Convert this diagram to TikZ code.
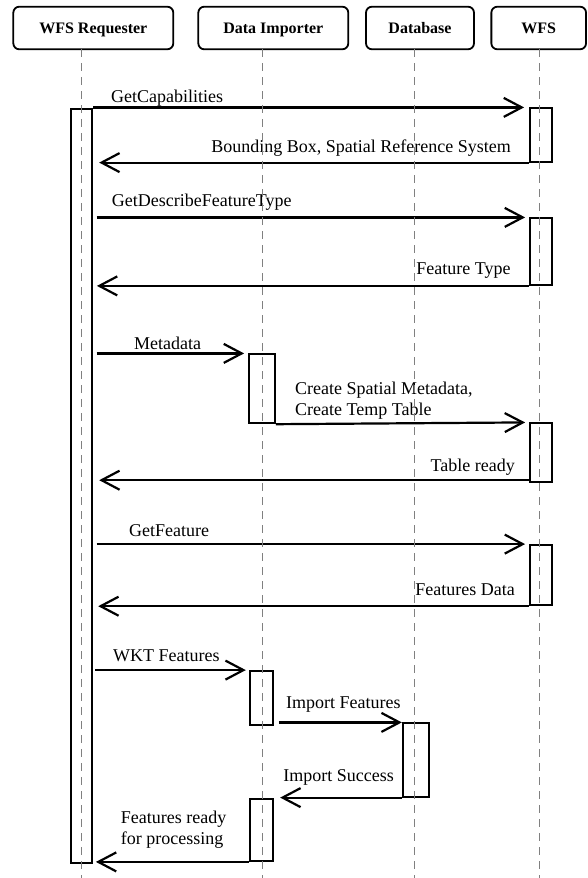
\documentclass[tikz,border=0pt]{standalone}
\usepackage{fontspec}
\setmainfont{Liberation Serif}
\usetikzlibrary{arrows.meta}
\begin{document}
\begin{tikzpicture}[x=1pt,y=-1pt,
  head/.style={draw, line width=1.8pt, rounded corners=6pt, minimum height=42.6pt, inner sep=0pt,
    font=\fontsize{16}{19}\selectfont\bfseries, text height=10.8pt, text depth=0pt},
  life/.style={draw=gray, line width=1.5pt, dash pattern=on 7.3pt off 6.7pt},
  act/.style={draw, line width=1.8pt, inner sep=0pt},
  msg/.style={line width=2.2pt, -{Straight Barb[length=18pt,width=19pt,line width=2.2pt]}},
  lbl/.style={font=\fontsize{18}{21}\selectfont, inner sep=0pt},
]
\useasboundingbox (0,0) rectangle (588,878);

% headers
\node[head, minimum width=160pt] (hreq) at (93.3,28) {WFS Requester};
\node[head, minimum width=150pt] (hdi) at (273.3,28) {Data Importer};
\node[head, minimum width=108pt] (hdb) at (420,28) {Database};
\node[head, minimum width=94.7pt] (hwfs) at (538.7,28) {WFS};

% lifeline ends
\coordinate (lreqA) at (81.7,49.3);  \coordinate (lreqB) at (81.7,878);
\coordinate (ldiA) at (262.3,49.3);  \coordinate (ldiB) at (262.3,878);
\coordinate (ldbA) at (414.3,49.3);  \coordinate (ldbB) at (414.3,878);
\coordinate (lwfsA) at (539.3,49.3); \coordinate (lwfsB) at (539.3,878);

% activation boxes
\node[act, minimum width=21.3pt, minimum height=753.7pt] (rbar) at (81.65,485.85) {};
\node[act, minimum width=21.7pt, minimum height=53.4pt] (w1) at (540.85,135) {};
\node[act, minimum width=21.7pt, minimum height=66.7pt] (w2) at (540.85,251.65) {};
\node[act, minimum width=25.7pt, minimum height=69pt] (d1) at (262.15,388.8) {};
\node[act, minimum width=21.7pt, minimum height=59pt] (w3) at (540.85,452.8) {};
\node[act, minimum width=21.7pt, minimum height=60.3pt] (w4) at (540.85,575.15) {};
\node[act, minimum width=22.7pt, minimum height=54.3pt] (d2) at (261.35,698.15) {};
\node[act, minimum width=26.6pt, minimum height=73.4pt] (b1) at (416,760) {};
\node[act, minimum width=22.7pt, minimum height=62pt] (d3) at (261.35,830) {};

% messages
\draw[msg, shorten >=5pt] (rbar.east |- w1.north) -- (w1.north west);
\draw[msg, shorten >=6pt] (w1.south west) -- (rbar.east |- w1.south);
\draw[msg, shorten <=3.4pt, shorten >=4pt] (rbar.east |- w2.north) -- (w2.north west);
\draw[msg, shorten >=3.7pt] (w2.south west) -- (rbar.east |- w2.south);
\draw[msg, shorten <=3.4pt, shorten >=4.3pt] (rbar.east |- d1.north) -- (d1.north west);
\draw[msg, shorten >=4pt] (d1.south east) -- (w3.north west);
\draw[msg, shorten >=6pt] ([yshift=3pt]w3.south west) -- ([yshift=3pt]rbar.east |- w3.south);
\draw[msg, shorten <=3.4pt, shorten >=4pt] (rbar.east |- w4.north) -- (w4.north west);
\draw[msg, shorten >=5pt] (w4.south west) -- (rbar.east |- w4.south);
\draw[msg, shorten <=2pt, shorten >=3.3pt] (rbar.east |- d2.north) -- (d2.north west);
\draw[msg, shorten <=5.3pt] (d2.east |- b1.north) -- (b1.north west);
\draw[msg, shorten >=6.6pt] (b1.south west) -- (d3.east |- b1.south);
\draw[msg, shorten >=2.7pt] (d3.south west) -- (rbar.east |- d3.south);

% labels
\node[lbl, anchor=base west] (t1) at (111,102) {GetCapabilities};
\node[lbl, anchor=base east] (t2) at (511,152) {Bounding Box, Spatial Reference System};
\node[lbl, anchor=base west] (t3) at (111.7,206.5) {GetDescribeFeatureType};
\node[lbl, anchor=base east] (t4) at (510.7,274.7) {Feature Type};
\node[lbl, anchor=base west] (t5) at (134,349) {Metadata};
\node[lbl, anchor=north west, align=left] (t6) at (295,381.7) {Create Spatial Metadata,\\Create Temp Table};
\node[lbl, anchor=base east] (t7) at (515,471.7) {Table ready};
\node[lbl, anchor=base west] (t8) at (129,536) {GetFeature};
\node[lbl, anchor=base east] (t9) at (515,595) {Features Data};
\node[lbl, anchor=base west] (t10) at (113,661) {WKT Features};
\node[lbl, anchor=base west] (t11) at (286,708.3) {Import Features};
\node[lbl, anchor=base east] (t12) at (394,781.7) {Import Success};
\node[lbl, anchor=north west, align=left] (t13) at (120.7,810.4) {Features ready\\for processing};

% lifelines (on top)
\draw[life] (lreqA) -- (lreqB);
\draw[life] (ldiA) -- (ldiB);
\draw[life] (ldbA) -- (ldbB);
\draw[life] (lwfsA) -- (lwfsB);
\end{tikzpicture}
\end{document}
